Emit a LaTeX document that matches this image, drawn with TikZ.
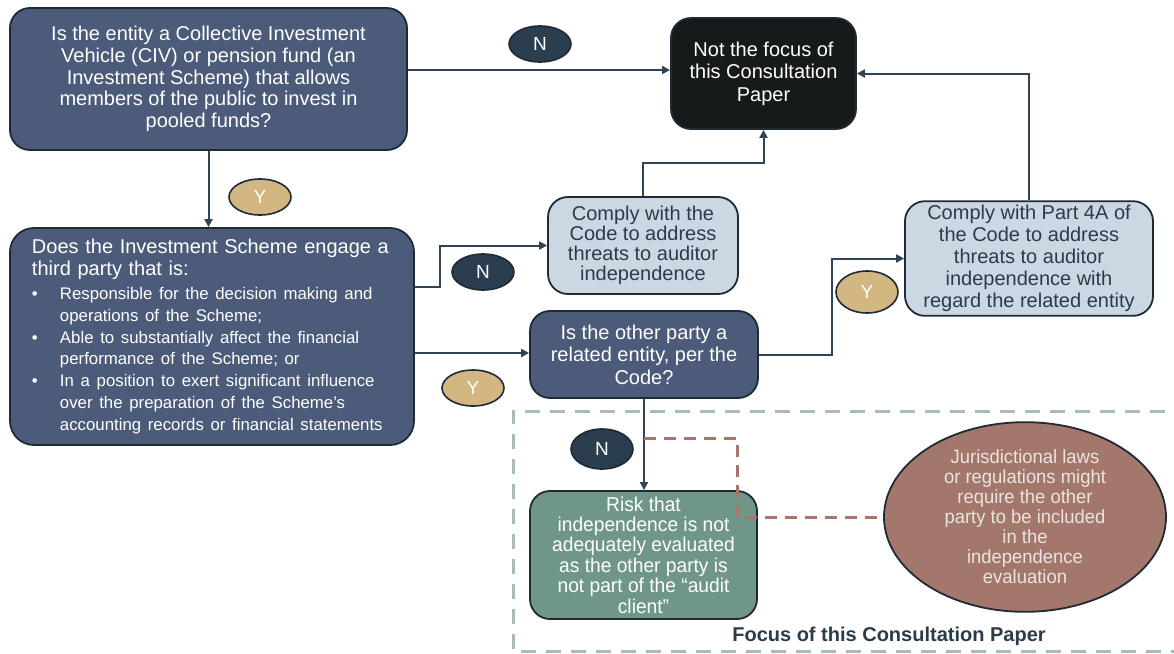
\documentclass[tikz,border=0pt]{standalone}
\usepackage{fontspec}
\setmainfont{Liberation Sans}
\newfontfamily\narrowfont{Liberation Sans}[FakeStretch=0.96]
\usetikzlibrary{shapes.geometric,arrows.meta}
\definecolor{slate}{RGB}{75,91,121}
\definecolor{bord}{RGB}{30,42,54}
\definecolor{blackbox}{RGB}{22,26,26}
\definecolor{lightblue}{RGB}{203,216,227}
\definecolor{ndark}{RGB}{43,62,80}
\definecolor{tan}{RGB}{211,183,131}
\definecolor{sage}{RGB}{111,150,137}
\definecolor{brownell}{RGB}{163,119,107}
\definecolor{reddash}{RGB}{168,117,106}
\definecolor{greendash}{RGB}{168,189,181}
\definecolor{textdark}{RGB}{44,59,74}
\definecolor{linec}{RGB}{47,68,86}
\definecolor{elltext}{RGB}{236,228,223}
\tikzset{
  boxbase/.style={draw=bord, line width=0.9pt, rounded corners=10pt, align=center, inner sep=2pt},
  darkbox/.style={boxbase, fill=slate, text=white, font=\fontsize{10}{10.9}\selectfont},
  lightbox/.style={boxbase, fill=lightblue, text=textdark, font=\fontsize{10}{11}\selectfont},
  blkbox/.style={boxbase, fill=blackbox, text=white, font=\fontsize{10}{11.2}\selectfont},
  greenbox/.style={boxbase, fill=sage, text=white, font=\narrowfont\fontsize{10}{10.2}\selectfont},
  nlabel/.style={ellipse, draw=bord, line width=0.8pt, fill=ndark, text=white, minimum width=31pt, minimum height=18pt, inner sep=0pt, font=\fontsize{9.5}{10}\selectfont},
  ylabel/.style={ellipse, draw=bord, line width=0.8pt, fill=tan, text=white, minimum width=31pt, minimum height=18pt, inner sep=0pt, font=\fontsize{9.5}{10}\selectfont},
  conn/.style={draw=linec, line width=1pt, -{Triangle[length=4pt,width=4pt]}},
}
\newcommand{\bulitem}{\makebox[14pt][l]{\textbullet}}
\newcommand{\bulind}{\hspace*{14pt}}
\begin{document}
\begin{tikzpicture}[x=0.5pt,y=-0.5pt]
\useasboundingbox (0,0) rectangle (1174,654);
% focus region
\draw[greendash, line width=1.5pt, dash pattern=on 7.5pt off 5pt] (1190,411) -- (513,411) -- (513,651) -- (1190,651);
% nodes
\node[darkbox, minimum width=198.5pt, minimum height=71pt] (Q1) at (208.5,79)
 {Is the entity a Collective Investment\\Vehicle (CIV) or pension fund (an\\Investment Scheme) that allows\\members of the public to invest in\\pooled funds?};
\node[blkbox, minimum width=92.5pt, minimum height=55.5pt] (NF) at (763.5,73.5)
 {Not the focus of\\this Consultation\\Paper};
\node[darkbox, rounded corners=12pt, minimum width=202pt, minimum height=108.5pt, text width=180pt, align=left, inner sep=0pt] (Q2) at (212,336.5)
 {Does the Investment Scheme engage a\\third party that is:\\[1pt]
 {\fontsize{8.4}{10.9}\selectfont
 \bulitem Responsible for the decision making and\\
 \bulind operations of the Scheme;\\
 \bulitem Able to substantially affect the financial\\
 \bulind performance of the Scheme; or\\
 \bulitem In a position to exert significant influence\\
 \bulind over the preparation of the Scheme's\\
 \bulind accounting records or financial statements\par}};
\node[lightbox, minimum width=95pt, minimum height=48.5pt, font=\fontsize{10}{10}\selectfont] (C1) at (643,245.5)
 {Comply with the\\Code to address\\threats to auditor\\independence};
\node[darkbox, minimum width=114pt, minimum height=43.5pt, font=\fontsize{10}{11.2}\selectfont] (Q3) at (644,354.5)
 {Is the other party a\\related entity, per the\\Code?};
\node[lightbox, minimum width=124pt, minimum height=56.5pt] (C2) at (1029,258.5)
 {Comply with Part 4A of\\the Code to address\\threats to auditor\\independence with\\regard the related entity};
\node[greenbox, minimum width=113.5pt, minimum height=64pt] (G) at (643.5,555)
 {Risk that\\independence is not\\adequately evaluated\\as the other party is\\not part of the \textquotedblleft audit\\client\textquotedblright};
\node[ellipse, draw=bord, line width=0.9pt, fill=brownell, text=elltext, minimum width=141pt, minimum height=92pt, inner sep=0pt, align=center, font=\narrowfont\fontsize{9.6}{10}\selectfont] (E) at (1025,517)
 {Jurisdictional laws\\or regulations might\\require the other\\party to be included\\in the\\independence\\evaluation};
\node[text=textdark, font=\bfseries\fontsize{10}{11}\selectfont] (FT) at (889,636) {Focus of this Consultation Paper};
% connectors
\draw[conn] (Q1.east |- 0,70) -- (NF.west |- 0,70);
\draw[conn] (Q1.south) -- (Q1.south |- Q2.north);
\draw[conn] (Q2.east |- 0,287) -- (440,287) -- (440,245.5) -- (C1.west);
\draw[conn] (Q2.east |- 0,353) -- (Q3.west |- 0,353);
\draw[conn] (C1.north) -- (C1.north |- 0,163) -- (NF.south |- 0,163) -- (NF.south);
\draw[conn] (Q3.east) -- (832,354.5) -- (832,258.5) -- (C2.west);
\draw[conn] (C2.north) -- (C2.north |- NF.east) -- (NF.east);
\draw[conn] (Q3.south) -- (Q3.south |- G.north);
\draw[reddash, line width=1.5pt, dash pattern=on 6pt off 4pt] (Q3.south |- 0,438) -- (737,438) -- (737,517) -- (E.west);
% Y/N labels
\node[nlabel] (N1) at (540,44) {N};
\node[ylabel] (Y1) at (260,197) {Y};
\node[nlabel] (N2) at (483,272) {N};
\node[ylabel] (Y2) at (473,388) {Y};
\node[ylabel, minimum height=21pt] (Y3) at (867,292) {Y};
\node[nlabel, minimum height=20pt] (N3) at (602,449) {N};
\end{tikzpicture}
\end{document}
